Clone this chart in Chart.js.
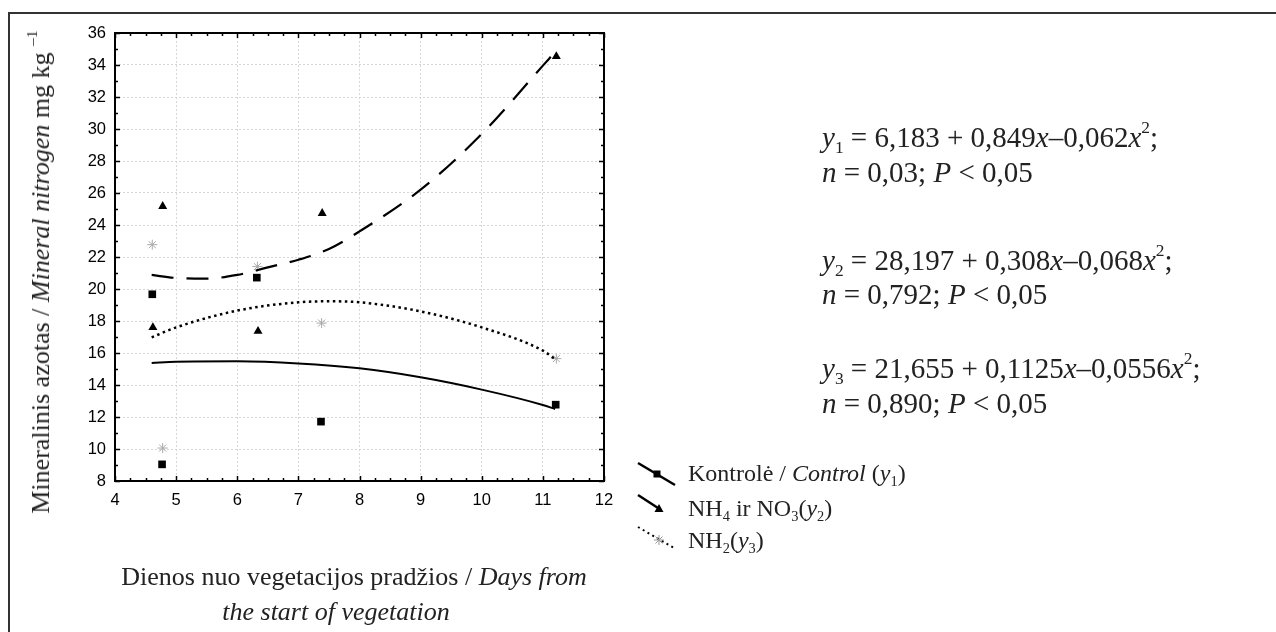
<!DOCTYPE html>
<html>
<head>
<meta charset="utf-8">
<script src="https://cdn.jsdelivr.net/npm/chart.js@4"></script>
<style>
  html, body { margin: 0; padding: 0; background: #fff; }
  #wrap { position: relative; width: 1276px; height: 632px; overflow: hidden; font-family: "Liberation Serif", "DejaVu Serif", serif; color: #222; }
  #frame { position: absolute; left: 8px; top: 12px; width: 1300px; height: 700px; border-top: 2px solid #333; border-left: 2px solid #333; }
  canvas { position: absolute; left: 0; top: 0; }
  .t { position: absolute; white-space: nowrap; line-height: 1; }
  .c { transform: translate(-50%, -50%); }
  .m { transform: translateY(-50%); }
  sub, sup { font-size: 0.6em; line-height: 0; }
  sub { vertical-align: -0.35em; }
  sup { vertical-align: 0.75em; }
  #ytitle { position: absolute; left: 41px; top: 272px; transform: translate(-50%, -50%) rotate(-90deg); font-size: 26px; white-space: nowrap; }
  .eq { font-size: 29px; }
  .lg { font-size: 24px; }
  .xt { font-size: 26px; }
</style>
</head>
<body>
<div id="wrap">
  <div id="frame"></div>
  <canvas id="chart" width="1276" height="632"></canvas>
  <div id="ytitle">Mineralinis azotas / <i>Mineral nitrogen</i> mg kg <sup>–1</sup></div>
  <div class="t c xt" style="left:354px; top:577px;">Dienos nuo vegetacijos pradžios / <i>Days from</i></div>
  <div class="t c xt" style="left:336px; top:612px;"><i>the start of vegetation</i></div>

  <div class="t m eq" style="left:822px; top:137px;"><i>y</i><sub>1</sub> = 6,183 + 0,849<i>x</i>–0,062<i>x</i><sup>2</sup>;</div>
  <div class="t m eq" style="left:822px; top:172px;"><i>n</i> = 0,03; <i>P</i> &lt; 0,05</div>
  <div class="t m eq" style="left:822px; top:260px;"><i>y</i><sub>2</sub> = 28,197 + 0,308<i>x</i>–0,068<i>x</i><sup>2</sup>;</div>
  <div class="t m eq" style="left:822px; top:294px;"><i>n</i> = 0,792; <i>P</i> &lt; 0,05</div>
  <div class="t m eq" style="left:822px; top:368px;"><i>y</i><sub>3</sub> = 21,655 + 0,1125<i>x</i>–0,0556<i>x</i><sup>2</sup>;</div>
  <div class="t m eq" style="left:822px; top:403px;"><i>n</i> = 0,890; <i>P</i> &lt; 0,05</div>

  <svg style="position:absolute; left:0; top:0;" width="1276" height="632">
    <line x1="638" y1="463" x2="675" y2="485" stroke="#000" stroke-width="2.5"/>
    <rect x="653.5" y="470.5" width="7" height="7" fill="#000"/>
    <line x1="638" y1="495" x2="658" y2="508" stroke="#000" stroke-width="2.5"/>
    <polygon points="659,504 663.5,512 654.5,512" fill="#000"/>
    <line x1="638" y1="527" x2="676" y2="549" stroke="#000" stroke-width="2" stroke-dasharray="2,3.5"/>
    <g stroke="#999" stroke-width="1">
      <line x1="654" y1="540" x2="664" y2="540"/><line x1="659" y1="535" x2="659" y2="545"/>
      <line x1="655.5" y1="536.5" x2="662.5" y2="543.5"/><line x1="655.5" y1="543.5" x2="662.5" y2="536.5"/>
    </g>
  </svg>
  <div class="t m lg" style="left:688px; top:473px;">Kontrolė / <i>Control</i> (<i>y</i><sub>1</sub>)</div>
  <div class="t m lg" style="left:688px; top:508px;">NH<sub>4</sub> ir NO<sub>3</sub>(<i>y</i><sub>2</sub>)</div>
  <div class="t m lg" style="left:688px; top:540px;">NH<sub>2</sub>(<i>y</i><sub>3</sub>)</div>
</div>
<script>
// ---- data ----
const xMin = 4, xMax = 12, xStep = 1;
const yMin = 8, yMax = 36, yStep = 2;

const controlX = [4.61, 4.77, 6.32, 7.37, 11.21];
const controlY = [19.67, 9.04, 20.71, 11.71, 12.77];

const nh4no3X = [4.62, 4.78, 6.34, 7.39, 11.22];
const nh4no3Y = [17.6, 25.17, 17.36, 24.73, 34.54];

const nh2X = [4.61, 4.78, 6.33, 7.38, 11.22];
const nh2Y = [22.77, 10.06, 21.4, 17.87, 15.65];

// fitted curves
const fit1X = [4.6, 5, 6, 7, 8, 9, 10, 11, 11.2];
const fit1Y = [15.37, 15.46, 15.48, 15.35, 15.04, 14.48, 13.71, 12.75, 12.5];

const fit2X = [4.6, 5, 5.5, 6, 6.5, 7, 7.5, 8, 9, 10, 11, 11.15];
const fit2Y = [20.88, 20.69, 20.65, 20.88, 21.35, 21.83, 22.5, 23.6, 26.21, 29.69, 33.96, 34.6];

const fit3X = [4.6, 5, 6, 7, 7.5, 8, 9, 10, 11, 11.2];
const fit3Y = [16.98, 17.6, 18.65, 19.17, 19.23, 19.17, 18.6, 17.6, 16.15, 15.62];

const pts = (xs, ys) => xs.map((x, i) => ({ x: x, y: ys[i] }));

const frameTicks = {
  id: 'frameTicks',
  afterDraw(chart) {
    const { ctx, chartArea: a, scales: { x, y } } = chart;
    ctx.save();
    ctx.strokeStyle = '#000';
    ctx.lineWidth = 1.5;
    ctx.beginPath();
    for (let i = 0; i <= (xMax - xMin) * 4; i++) {
      const v = xMin + i * 0.25;
      const px = Math.round(x.getPixelForValue(v)) + 0.5;
      const len = (i % 4 === 0) ? 5 : 3;
      ctx.moveTo(px, a.bottom); ctx.lineTo(px, a.bottom - len);
      ctx.moveTo(px, a.top); ctx.lineTo(px, a.top + len);
    }
    for (let v = yMin; v <= yMax; v++) {
      const py = Math.round(y.getPixelForValue(v)) + 0.5;
      const len = (v % 2 === 0) ? 5 : 3;
      ctx.moveTo(a.left, py); ctx.lineTo(a.left + len, py);
      ctx.moveTo(a.right, py); ctx.lineTo(a.right - len, py);
    }
    ctx.stroke();
    ctx.lineWidth = 2;
    ctx.strokeRect(a.left, a.top, a.right - a.left, a.bottom - a.top);
    ctx.restore();
  }
};

const tickFont = { family: 'Liberation Sans, Arial, sans-serif', size: 16.5 };

new Chart(document.getElementById('chart'), {
  type: 'scatter',
  data: {
    datasets: [
      { label: 'fit1', data: pts(fit1X, fit1Y), showLine: true, pointRadius: 0, borderColor: '#000', borderWidth: 2, tension: 0.4, cubicInterpolationMode: 'monotone', fill: false },
      { label: 'fit2', data: pts(fit2X, fit2Y), showLine: true, pointRadius: 0, borderColor: '#000', borderWidth: 2.2, borderDash: [22, 13], tension: 0.4, cubicInterpolationMode: 'monotone', fill: false },
      { label: 'fit3', data: pts(fit3X, fit3Y), showLine: true, pointRadius: 0, borderColor: '#000', borderWidth: 2.5, borderDash: [2.5, 3.5], tension: 0.4, cubicInterpolationMode: 'monotone', fill: false },
      { label: 'Kontrolė / Control (y1)', data: pts(controlX, controlY), pointStyle: 'rect', pointRadius: 5.4, backgroundColor: '#000', borderColor: '#000', borderWidth: 0 },
      { label: 'NH4 ir NO3 (y2)', data: pts(nh4no3X, nh4no3Y), pointStyle: 'triangle', pointRadius: 5.2, backgroundColor: '#000', borderColor: '#000', borderWidth: 0 },
      { label: 'NH2 (y3)', data: pts(nh2X, nh2Y), pointStyle: 'star', pointRadius: 5, backgroundColor: '#aaa', borderColor: '#aaa', borderWidth: 1 }
    ]
  },
  options: {
    responsive: false,
    animation: false,
    events: [],
    layout: { padding: { left: 60, right: 672, top: 33, bottom: 121 } },
    plugins: { legend: { display: false }, tooltip: { enabled: false }, title: { display: false } },
    scales: {
      x: {
        type: 'linear', min: xMin, max: xMax,
        ticks: { stepSize: xStep, font: tickFont, color: '#000', padding: 10, maxRotation: 0 },
        grid: { color: '#d6d6d6', drawTicks: false, lineWidth: 1 },
        border: { display: false, dash: [2, 2] },
        afterFit: s => { s.height = 30; }
      },
      y: {
        type: 'linear', min: yMin, max: yMax,
        ticks: { stepSize: yStep, font: tickFont, color: '#000', padding: 9 },
        grid: { color: '#d6d6d6', drawTicks: false, lineWidth: 1 },
        border: { display: false, dash: [2, 2] },
        afterFit: s => { s.width = 55; }
      }
    }
  },
  plugins: [frameTicks]
});
</script>
</body>
</html>
